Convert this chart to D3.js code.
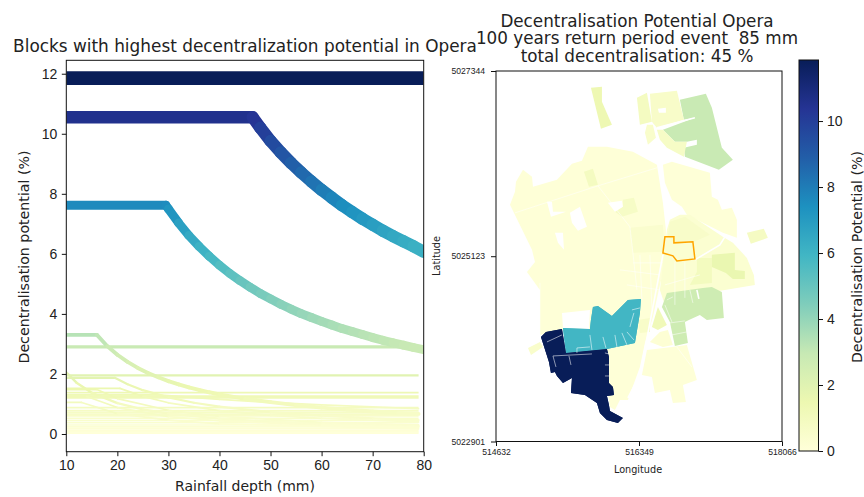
<!DOCTYPE html>
<html><head><meta charset="utf-8">
<script src="https://cdn.jsdelivr.net/npm/d3@7"></script>
<style>html,body{margin:0;background:#fff}svg{display:block;font-family:"DejaVu Sans",sans-serif}
text{fill:#222}.tick line,.domain{stroke:#111}</style></head><body><div id="c"></div>
<script>
// ---------- colour map (YlGnBu) ----------
const ylGnBu = ["#ffffd9","#edf8b1","#c7e9b4","#7fcdbb","#41b6c4","#1d91c0","#225ea8","#253494","#081d58"];
const maxPotential = 11.85;

// ---------- left chart: rainfall depth (mm), decentralisation potential (%) ----------
const plateauTop = [[10,11.85],[80,11.85]];
const curve105 = [[10,10.55],[46.5,10.55],[48,10.2],[50,9.76],[52,9.38],[54,9.03],[56,8.71],[58,8.41],[60,8.13],[62,7.87],[64,7.62],[66,7.39],[68,7.17],[70,6.97],[72,6.77],[74,6.59],[76,6.42],[78,6.25],[80,6.07]];
const curve76 = [[10,7.62],[29.5,7.62],[30,7.5],[32,7.03],[34,6.61],[36,6.25],[38,5.92],[40,5.62],[42,5.35],[44,5.11],[46,4.89],[48,4.68],[50,4.5],[52,4.32],[54,4.16],[56,4.01],[58,3.88],[60,3.75],[62,3.63],[64,3.51],[66,3.41],[68,3.31],[70,3.21],[72,3.12],[74,3.04],[76,2.96],[78,2.88],[80,2.81]];
const curve33 = [[10,3.3],[16,3.3],[18,2.93],[20,2.64],[22,2.4],[24,2.2],[26,2.03],[28,1.89],[30,1.76],[32,1.65],[34,1.55],[36,1.47],[38,1.39],[40,1.32],[45,1.17],[50,1.06],[55,.96],[60,.88],[65,.81],[70,.75],[75,.7],[79,.67]];
const flat29 = [[10,2.9],[79,2.9]];
const smallCurves = [
 [[10,2.05],[12,1.71],[15,1.37],[20,1.03],[25,.82],[30,.68],[40,.51],[50,.41],[60,.34],[79,.26]],
 [[10,1.87],[19.5,1.87],[22,1.66],[25,1.46],[30,1.22],[35,1.04],[40,.91],[50,.73],[60,.61],[70,.52],[79,.46]],
 [[10,1.52],[20.5,1.52],[25,1.25],[30,1.04],[40,.78],[50,.62],[60,.52],[79,.4]],
 [[10,1.3],[28,1.3],[40,1.15],[50,1.05],[60,.97],[70,.9],[79,.84]],
 [[10,1.25],[14,1.25],[20,.88],[30,.58],[40,.44],[60,.29],[79,.22]],
 [[10,1.05],[13,1.05],[20,.68],[30,.46],[40,.34],[79,.17]],
 [[10,1.48],[16,1.48],[20,1.18],[30,.79],[40,.59],[60,.39],[79,.3]]
];
const flatLevels = [1.95,1.38,1.26,1.2,.88,.78,.72,.66,.6,.52,.45,.38,.3,.24,.18,.12,.07,.03];
const flatDepths = [10,79];
const depthTicks = [10,20,30,40,50,60,70,80];
const potentialTicks = [0,2,4,6,8,10,12];

// ---------- map: metres east / north of the lower-left map corner ----------
const lonTicks = [514632,516349,518066];
const latTicks = [5022901,5025123,5027344];
const blockValues = [.06,.08,.3,.4,.6,.95,1.6,.08,.2,1.2,.6,.5,2.9,1.4,.6,.9,.5,.7,.8,.9,.7,2.7,5.9,11.85];
const blockRings = [
 [[168,2838],[228,2994],[240,3114],[324,3258],[432,3174],[444,3054],[732,3138],[912,3330],[1032,3366],[1104,3534],[1332,3534],[1644,3474],[1932,3318],[2004,2862],[2040,2538],[2040,2154],[1968,1878],[1884,1494],[1788,1182],[1728,894],[1584,498],[1488,498],[1428,378],[1368,414],[1248,1218],[792,1338],[528,1278],[528,1818],[372,2034],[468,2154],[432,2298]],
 [[2004,3318],[2112,3354],[2568,3222],[2592,2934],[2664,2898],[2712,2778],[2832,2802],[2892,2658],[2892,2442],[2724,2502],[2292,2718],[2232,2814],[2112,2898],[2028,3102]],
 [[2052,2538],[2088,2658],[2208,2718],[2328,2718],[2724,2454],[2844,2382],[3012,2202],[3096,1998],[3108,1878],[2604,1794],[2028,1638],[1968,1818]],
 [[1608,2562],[2004,2598],[2028,2274],[1644,2262]],
 [[2088,2634],[2268,2694],[2568,2478],[2352,2382],[2148,2370],[2064,2466]],
 [[2412,2202],[2592,2202],[2592,1902],[2328,1878],[2412,2034]],
 [[2592,2238],[2868,2262],[2868,2058],[2988,2046],[2988,1950],[2844,1950],[2760,2022],[2592,2094]],
 [[2112,1134],[2292,1158],[2412,738],[2244,678],[2280,474],[2124,462],[2088,618],[1908,582],[1872,774],[1752,798],[1812,1098]],
 [[1848,1194],[1968,1314],[2064,1338],[2124,1158],[2004,1134]],
 [[1944,1614],[2052,1398],[1944,1338],[1872,1374]],
 [[1704,1458],[1848,1482],[1848,1314],[1728,1302]],
 [[384,1122],[528,1194],[564,1134],[420,1038]],
 [[2208,4098],[2520,4170],[2592,4002],[2712,3522],[2844,3378],[2676,3258],[2268,3414],[2256,3522],[2412,3558],[2412,3618],[2292,3594],[2148,3594],[2004,3738],[2388,3882],[2256,3858]],
 [[1140,4242],[1272,4254],[1272,4074],[1392,3798],[1260,3750]],
 [[1848,4170],[2172,4206],[2256,3858],[1932,3762],[1872,3834]],
 [[1692,4122],[1812,4182],[1872,3834],[1728,3798]],
 [[1812,3798],[1884,3798],[1920,3642],[1824,3558],[1788,3702]],
 [[1932,3738],[2004,3738],[2148,3594],[2292,3594],[2256,3414],[2052,3522],[1968,3618]],
 [[3012,2502],[3216,2550],[3264,2442],[3060,2370]],
 [[1056,3234],[1164,3270],[1224,3078],[1116,3054]],
 [[1428,2754],[1524,2814],[1524,2898],[1656,2922],[1704,2754],[1512,2694]],
 [[2052,1782],[2484,1842],[2592,1854],[2712,1794],[2736,1482],[2532,1458],[2448,1518],[2316,1458],[2268,1434],[2304,1182],[2148,1146],[2088,1434],[1992,1614]],
 [[804,1362],[1128,1350],[1140,1458],[1164,1614],[1224,1626],[1392,1506],[1584,1698],[1740,1710],[1728,1542],[1668,1182],[1332,1110],[840,1062]],
 [[540,1254],[600,1314],[792,1350],[840,1062],[1332,1110],[1356,1014],[1356,702],[1404,654],[1416,558],[1332,546],[1356,438],[1368,366],[1524,282],[1464,222],[1332,258],[1248,342],[1212,462],[1068,558],[900,582],[912,762],[804,702],[732,786],[708,834],[660,822],[636,954]]
];
const holes = [
 [[792,1542],[1128,1578],[1116,1350],[804,1362]],
 [[1344,2862],[1512,2886],[1524,2814],[1428,2754]],
 [[888,2742],[1008,2814],[1092,2574],[984,2526],[912,2622]],
 [[612,2874],[660,2694],[840,2754],[684,2754],[672,2874]],
 [[708,2502],[804,2502],[816,2298],[744,2382]],
 [[1944,3990],[2040,4002],[2040,3942],[1956,3942]]
];
const majorRoads = [
 [[2004,2238],[1728,798],[1584,522]],
 [[2388,2178],[2688,2358],[2748,2454]],
 [[2412,1818],[2436,1710]],
 [[1932,3762],[2388,3882]]
];
const minorStreets = [
 [[228,2742],[1224,3066],[1932,3282]],
 [[1224,3066],[1608,2574],[1644,2262],[1692,1818]],
 [[528,1902],[528,1254]],
 [[2172,1134],[2352,894]],
 [[1644,2142],[2004,2142]],[[1488,2058],[1968,1998]],[[1572,1878],[1968,1818]],
 [[1728,2238],[1752,1698]],[[1848,2238],[1872,1578]],[[2148,2154],[2148,1638]],[[2268,2154],[2268,1722]],[[2028,1878],[2448,1998]],
 [[2052,1698],[2124,1734]],[[2328,1818],[2364,1662]],[[2028,1638],[2112,1434]],[[2088,1422],[2268,1446]],[[2112,1278],[2292,1314]]
];
const innerLines = [
 [[612,1194],[792,1278]],[[684,1026],[1152,1050]],[[876,1026],[900,918]],[[684,1026],[720,894]],
 [[1308,1062],[1356,1050]],[[1308,918],[1356,918]],[[1308,786],[1356,786]],
 [[1128,1278],[1152,1098]],[[1284,1254],[1320,1122]],[[1428,1278],[1452,1134]],[[1512,1302],[1572,1158]],[[1572,1314],[1656,1218]],
 [[1656,1542],[1608,1374]],[[1632,1578],[1728,1602]],[[972,1122],[972,1062]],[[972,1122],[1128,1134]]
];
const selectedBlock = [[2028,2454],[2136,2454],[2136,2382],[2364,2394],[2388,2190],[2172,2166],[2124,2226],[2004,2262]];

// ---------- layout ----------
const svg = d3.select("#c").append("svg").attr("width",864).attr("height",497);
const color = d3.scaleLinear().domain(ylGnBu.map((_,i)=>i/8*maxPotential)).range(ylGnBu).clamp(true);

// ---------- left chart ----------
const L = {l:66.3,r:423.7,t:60.3,b:451.7};
const xL = d3.scaleLinear().domain([10,80]).range([L.l,L.r]);
const yL = d3.scaleLinear().domain([-.59,12.447]).range([L.b,L.t]);
const widthOf = d3.scaleLinear().domain([0,11.85]).range([0,13.8]);
svg.append("clipPath").attr("id","cl").append("rect").attr("x",L.l).attr("y",L.t).attr("width",L.r-L.l).attr("height",L.b-L.t);
const allSeries = [
 ...flatLevels.map(v=>flatDepths.map(d=>[d,v])).reverse(),
 ...smallCurves, flat29, curve33, curve76, curve105, plateauTop
];
const gL = svg.append("g").attr("clip-path","url(#cl)");
allSeries.forEach(s=>{
  const w = Math.max(1.7,widthOf(d3.max(s,p=>p[1])));
  gL.append("g").selectAll("line").data(d3.pairs(s)).join("line")
    .attr("x1",d=>xL(d[0][0])).attr("y1",d=>yL(d[0][1]))
    .attr("x2",d=>xL(d[1][0])).attr("y2",d=>yL(d[1][1]))
    .attr("stroke",d=>color((d[0][1]+d[1][1])/2))
    .attr("stroke-width",w)
    .attr("stroke-linecap",s.length>2?"round":"butt");
});
const styleAxis=(g,fs)=>{g.selectAll("text").style("font-size",fs+"px").style("font-family","inherit");g.select(".domain").remove();};
svg.append("g").attr("transform",`translate(0,${L.b})`)
  .call(d3.axisBottom(xL).tickValues(depthTicks).tickSize(4.5).tickPadding(4)).call(styleAxis,14);
svg.append("g").attr("transform",`translate(${L.l},0)`)
  .call(d3.axisLeft(yL).tickValues(potentialTicks).tickSize(4.5).tickPadding(4.5)).call(styleAxis,14);
svg.append("rect").attr("x",L.l).attr("y",L.t).attr("width",L.r-L.l).attr("height",L.b-L.t).attr("fill","none").attr("stroke","#111").attr("stroke-width",1);
svg.append("text").attr("x",245).attr("y",52).attr("text-anchor","middle").style("font-size","16.9px").text("Blocks with highest decentralization potential in Opera");
svg.append("text").attr("x",245).attr("y",491).attr("text-anchor","middle").style("font-size","14px").text("Rainfall depth (mm)");
svg.append("text").attr("transform","translate(29,257) rotate(-90)").attr("text-anchor","middle").style("font-size","14.2px").text("Decentralisation potential (%)");

// ---------- map ----------
const M = {l:496,r:782,t:71,b:441.5};
const xM = d3.scaleLinear().domain([lonTicks[0],lonTicks[2]]).range([M.l,M.r]);
const yM = d3.scaleLinear().domain([latTicks[0],latTicks[2]]).range([M.b,M.t]);
const ringLine = d3.line().x(p=>xM(lonTicks[0]+p[0])).y(p=>yM(latTicks[0]+p[1]));
const gM = svg.append("g");
gM.selectAll("path.block").data(blockRings).join("path").attr("class","block")
  .attr("d",d=>ringLine(d)+"Z").attr("fill",(d,i)=>color(blockValues[i]));
gM.selectAll("path.hole").data(holes).join("path").attr("class","hole").attr("d",d=>ringLine(d)+"Z").attr("fill","#fff");
gM.selectAll("path.major").data(majorRoads).join("path").attr("class","major").attr("d",ringLine).attr("fill","none").attr("stroke","#fff").attr("stroke-width",1.6);
gM.selectAll("path.minor").data(minorStreets).join("path").attr("class","minor").attr("d",ringLine).attr("fill","none").attr("stroke","#fff").attr("stroke-opacity",.75).attr("stroke-width",.7);
gM.selectAll("path.top").data(blockRings.slice(-2)).join("path").attr("class","top")
  .attr("d",d=>ringLine(d)+"Z").attr("fill",(d,i)=>color(blockValues[blockValues.length-2+i]));
gM.selectAll("path.inner").data(innerLines).join("path").attr("class","inner").attr("d",ringLine).attr("fill","none").attr("stroke","#fff").attr("stroke-opacity",.6).attr("stroke-width",.9);
gM.append("path").attr("d",ringLine(selectedBlock)+"Z").attr("fill","none").attr("stroke","#ffa500").attr("stroke-width",1.5);
svg.append("g").attr("transform",`translate(0,${M.b})`)
  .call(d3.axisBottom(xM).tickValues(lonTicks).tickFormat(d3.format("d")).tickSize(4.5).tickPadding(3)).call(styleAxis,8.6);
svg.append("g").attr("transform",`translate(${M.l},0)`)
  .call(d3.axisLeft(yM).tickValues(latTicks).tickFormat(d3.format("d")).tickSize(5).tickPadding(6)).call(styleAxis,8.6);
svg.append("rect").attr("x",M.l).attr("y",M.t).attr("width",M.r-M.l).attr("height",M.b-M.t).attr("fill","none").attr("stroke","#111").attr("stroke-width",1);
["Decentralisation Potential Opera","100 years return period event  85 mm","total decentralisation: 45 %"].forEach((t,i)=>{
  svg.append("text").attr("x",637).attr("y",26.5+i*17.7).attr("text-anchor","middle").style("white-space","pre").style("font-size","16.8px").text(t);
});
svg.append("text").attr("x",638).attr("y",473).attr("text-anchor","middle").style("font-size","9.7px").text("Longitude");
svg.append("text").attr("transform","translate(440,256) rotate(-90)").attr("text-anchor","middle").style("font-size","9.7px").text("Latitude");

// ---------- colour bar ----------
const C = {l:799,r:818.5,t:60,b:451};
const yC = d3.scaleLinear().domain([0,maxPotential]).range([C.b,C.t]);
const grad = svg.append("defs").append("linearGradient").attr("id","cb").attr("x1",0).attr("x2",0).attr("y1",1).attr("y2",0);
ylGnBu.forEach((c,i)=>grad.append("stop").attr("offset",i/8).attr("stop-color",c));
svg.append("rect").attr("x",C.l).attr("y",C.t).attr("width",C.r-C.l).attr("height",C.b-C.t).attr("fill","url(#cb)").attr("stroke","#111");
svg.append("g").attr("transform",`translate(${C.r},0)`)
  .call(d3.axisRight(yC).tickValues([0,2,4,6,8,10]).tickSize(4.5).tickPadding(4)).call(styleAxis,14);
svg.append("text").attr("transform","translate(862,257) rotate(-90)").attr("text-anchor","middle").style("font-size","14.2px").text("Decentralisation Potential (%)");
</script></body></html>
